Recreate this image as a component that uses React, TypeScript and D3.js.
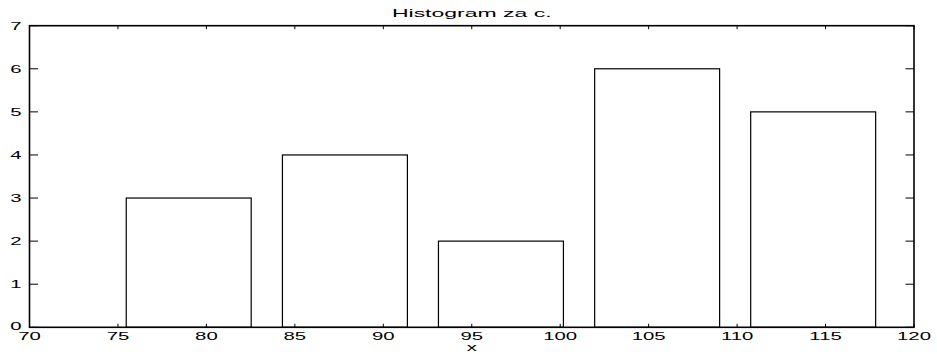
import * as d3 from 'd3';
import { useEffect, useRef } from 'react';

// bin centres (histogram of c, 5 bins) and counts
const BIN_CENTERS = [79.0, 87.83, 96.65, 105.48, 114.3];
const BIN_COUNTS = [3, 4, 2, 6, 5];
const X_TICKS = [70, 75, 80, 85, 90, 95, 100, 105, 110, 115, 120];
const Y_TICKS = [0, 1, 2, 3, 4, 5, 6, 7];
const TITLE = 'Histogram za c.';
const X_LABEL = 'x';

const WIDTH = 937;
const HEIGHT = 354;
const FONT = '"Liberation Sans", Arial, Helvetica, sans-serif';
const STRETCH = 1.85;

export default function App() {
  const ref = useRef<SVGSVGElement>(null);

  useEffect(() => {
    const svg = d3.select(ref.current);
    svg.selectAll('*').remove();

    const margin = { top: 25.7, right: WIDTH - 914, bottom: HEIGHT - 327.3, left: 29.5 };
    const innerWidth = WIDTH - margin.left - margin.right;
    const innerHeight = HEIGHT - margin.top - margin.bottom;

    const x = d3.scaleLinear().domain([70, 120]).range([0, innerWidth]);
    const y = d3.scaleLinear().domain([0, 7]).range([innerHeight, 0]);
    const barWidth = 0.8 * (BIN_CENTERS[1] - BIN_CENTERS[0]);

    svg.append('rect').attr('width', WIDTH).attr('height', HEIGHT).attr('fill', '#fff');

    const g = svg.append('g').attr('transform', `translate(${margin.left},${margin.top})`);

    // bars
    g.selectAll('rect.bar')
      .data(BIN_CENTERS.map((c, i) => ({ c, n: BIN_COUNTS[i] })))
      .enter()
      .append('rect')
      .attr('class', 'bar')
      .attr('x', (d) => x(d.c - barWidth / 2))
      .attr('y', (d) => y(d.n))
      .attr('width', (d) => x(d.c + barWidth / 2) - x(d.c - barWidth / 2))
      .attr('height', (d) => innerHeight - y(d.n))
      .attr('fill', 'none')
      .attr('stroke', '#000')
      .attr('stroke-width', 1.2);

    // ticks, inward on all four sides
    g.selectAll('line.xt-b')
      .data(X_TICKS)
      .enter()
      .append('line')
      .attr('x1', (d) => x(d)).attr('x2', (d) => x(d))
      .attr('y1', innerHeight).attr('y2', innerHeight - 3.5)
      .attr('stroke', '#000');
    g.selectAll('line.xt-t')
      .data(X_TICKS)
      .enter()
      .append('line')
      .attr('x1', (d) => x(d)).attr('x2', (d) => x(d))
      .attr('y1', 0).attr('y2', 3.5)
      .attr('stroke', '#000');
    g.selectAll('line.yt-l')
      .data(Y_TICKS)
      .enter()
      .append('line')
      .attr('x1', 0).attr('x2', 8.5)
      .attr('y1', (d) => y(d)).attr('y2', (d) => y(d))
      .attr('stroke', '#000');
    g.selectAll('line.yt-r')
      .data(Y_TICKS)
      .enter()
      .append('line')
      .attr('x1', innerWidth).attr('x2', innerWidth - 8.5)
      .attr('y1', (d) => y(d)).attr('y2', (d) => y(d))
      .attr('stroke', '#000');

    // axes box
    g.append('rect')
      .attr('width', innerWidth)
      .attr('height', innerHeight)
      .attr('fill', 'none')
      .attr('stroke', '#000')
      .attr('stroke-width', 1.6);

    // tick labels, stretched like the original bitmap font
    g.selectAll('g.xl')
      .data(X_TICKS)
      .enter()
      .append('g')
      .attr('transform', (d) => `translate(${x(d)},${innerHeight + 13}) scale(${STRETCH},1)`)
      .append('text')
      .attr('text-anchor', 'middle')
      .style('font-family', FONT)
      .style('font-size', '11px')
      .text((d) => d);

    // the 0 label sits a little higher, clear of the 70 below it
    g.selectAll('g.yl')
      .data(Y_TICKS)
      .enter()
      .append('g')
      .attr('transform', (d) => `translate(-8,${y(d) + (d === 0 ? 2.5 : 4)}) scale(${STRETCH},1)`)
      .append('text')
      .attr('text-anchor', 'end')
      .style('font-family', FONT)
      .style('font-size', '11px')
      .text((d) => d);

    g.append('g')
      .attr('transform', `translate(${innerWidth / 2},-9) scale(2,1)`)
      .append('text')
      .attr('text-anchor', 'middle')
      .style('font-family', FONT)
      .style('font-size', '11.5px')
      .text(TITLE);

    g.append('g')
      .attr('transform', `translate(${innerWidth / 2},${innerHeight + 24}) scale(${STRETCH},1)`)
      .append('text')
      .attr('text-anchor', 'middle')
      .style('font-family', FONT)
      .style('font-size', '11px')
      .text(X_LABEL);
  }, []);

  return (
    <svg
      ref={ref}
      width={WIDTH}
      height={HEIGHT}
      style={{ position: 'absolute', left: 0, top: 0, display: 'block' }}
    />
  );
}
